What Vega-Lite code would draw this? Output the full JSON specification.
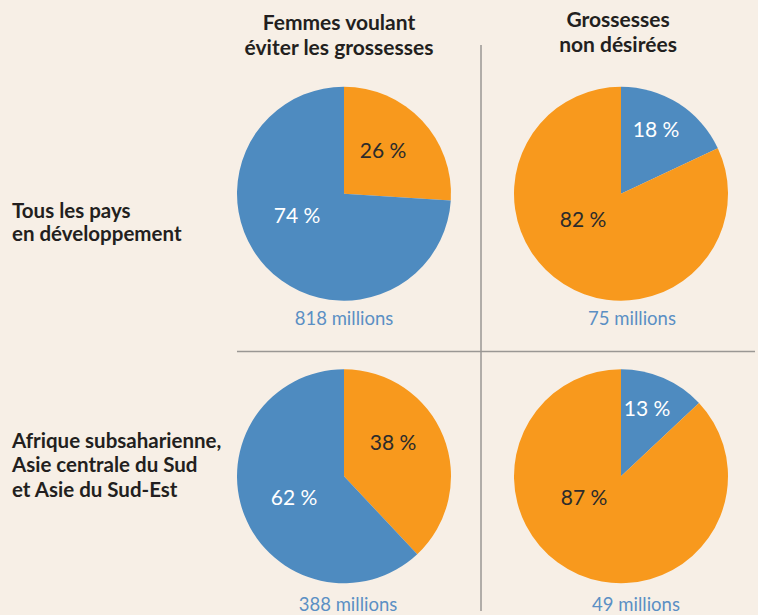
{
  "$schema": "https://vega.github.io/schema/vega-lite/v6.json",
  "width": 758,
  "height": 615,
  "autosize": {"type": "fit", "contains": "padding"},
  "padding": 0,
  "background": "#f7efe6",
  "config": {"view": {"stroke": null}},
  "datasets": {
    "slices": [
      {"col": 1, "row": 1, "part": "Besoins non satisfaits", "t0": 0, "t1": 26},
      {"col": 1, "row": 1, "part": "Contraception moderne", "t0": 26, "t1": 100},
      {"col": 2, "row": 1, "part": "Contraception moderne", "t0": 0, "t1": 18},
      {"col": 2, "row": 1, "part": "Besoins non satisfaits", "t0": 18, "t1": 100},
      {"col": 1, "row": 2, "part": "Besoins non satisfaits", "t0": 0, "t1": 38},
      {"col": 1, "row": 2, "part": "Contraception moderne", "t0": 38, "t1": 100},
      {"col": 2, "row": 2, "part": "Contraception moderne", "t0": 0, "t1": 13},
      {"col": 2, "row": 2, "part": "Besoins non satisfaits", "t0": 13, "t1": 100}
    ],
    "pct": [
      {"lx": 1.1408, "ly": 0.8516, "label": "26 %", "part": "Besoins non satisfaits"},
      {"lx": 0.8303, "ly": 1.0813, "label": "74 %", "part": "Contraception moderne"},
      {"lx": 2.1264, "ly": 0.7774, "label": "18 %", "part": "Contraception moderne"},
      {"lx": 1.8628, "ly": 1.0954, "label": "82 %", "part": "Besoins non satisfaits"},
      {"lx": 1.1769, "ly": 1.8869, "label": "38 %", "part": "Besoins non satisfaits"},
      {"lx": 0.8195, "ly": 2.0813, "label": "62 %", "part": "Contraception moderne"},
      {"lx": 2.0939, "ly": 1.7668, "label": "13 %", "part": "Contraception moderne"},
      {"lx": 1.8664, "ly": 2.0813, "label": "87 %", "part": "Besoins non satisfaits"}
    ],
    "totals": [
      {"lx": 1.0, "ly": 1.4452, "label": "818 millions"},
      {"lx": 2.0397, "ly": 1.4452, "label": "75 millions"},
      {"lx": 1.0144, "ly": 2.4558, "label": "388 millions"},
      {"lx": 2.0542, "ly": 2.4558, "label": "49 millions"}
    ],
    "headers": [
      {"lx": 0.9819, "ly": 0.3993, "label": "Femmes voulant"},
      {"lx": 0.9819, "ly": 0.4876, "label": "éviter les grossesses"},
      {"lx": 1.9892, "ly": 0.3887, "label": "Grossesses"},
      {"lx": 1.9892, "ly": 0.4770, "label": "non désirées"}
    ],
    "rows": [
      {"lx": -0.1986, "ly": 1.0636, "label": "Tous les pays"},
      {"lx": -0.1986, "ly": 1.1449, "label": "en développement"},
      {"lx": -0.1986, "ly": 1.8799, "label": "Afrique subsaharienne,"},
      {"lx": -0.1986, "ly": 1.9647, "label": "Asie centrale du Sud"},
      {"lx": -0.1986, "ly": 2.0530, "label": "et Asie du Sud-Est"}
    ],
    "dividers": [
      {"x1": 1.4946, "x2": 1.4946, "y1": 0.4735, "y2": 2.4770},
      {"x1": 0.6137, "x2": 2.4838, "y1": 1.5583, "y2": 1.5583}
    ]
  },
  "layer": [
    {
      "data": {"name": "dividers"},
      "mark": {"type": "rule", "color": "#9a9794", "strokeWidth": 1.5},
      "encoding": {
        "x": {"field": "x1", "type": "quantitative", "scale": {"domain": [-0.24188, 2.49458], "nice": false, "zero": false}, "axis": null},
        "x2": {"field": "x2"},
        "y": {"field": "y1", "type": "quantitative", "scale": {"domain": [0.31449, 2.48763], "nice": false, "zero": false, "reverse": true}, "axis": null},
        "y2": {"field": "y2"}
      }
    },
    {
      "data": {"name": "slices"},
      "mark": {"type": "arc", "outerRadius": 107},
      "encoding": {
        "x": {"field": "col", "type": "quantitative", "scale": {"domain": [-0.24188, 2.49458], "nice": false, "zero": false}, "axis": null},
        "y": {"field": "row", "type": "quantitative", "scale": {"domain": [0.31449, 2.48763], "nice": false, "zero": false, "reverse": true}, "axis": null},
        "theta": {"field": "t0", "type": "quantitative", "stack": null, "scale": {"domain": [0, 100], "range": [0, 6.283185307]}},
        "theta2": {"field": "t1"},
        "color": {"field": "part", "type": "nominal", "scale": {"domain": ["Besoins non satisfaits", "Contraception moderne"], "range": ["#f8991d", "#4e8bc0"]}, "legend": null}
      }
    },
    {
      "data": {"name": "pct"},
      "mark": {"type": "text", "font": "Lato", "fontSize": 21, "align": "center", "baseline": "middle"},
      "encoding": {
        "x": {"field": "lx", "type": "quantitative"},
        "y": {"field": "ly", "type": "quantitative"},
        "text": {"field": "label"},
        "color": {"condition": {"test": "datum.part === 'Contraception moderne'", "value": "#ffffff"}, "value": "#2b2b2b"}
      }
    },
    {
      "data": {"name": "totals"},
      "mark": {"type": "text", "font": "Lato", "fontSize": 18.5, "align": "center", "baseline": "middle", "color": "#5b8fc4"},
      "encoding": {
        "x": {"field": "lx", "type": "quantitative"},
        "y": {"field": "ly", "type": "quantitative"},
        "text": {"field": "label"}
      }
    },
    {
      "data": {"name": "headers"},
      "mark": {"type": "text", "font": "Lato", "fontWeight": "bold", "fontSize": 21, "align": "center", "baseline": "middle", "color": "#231f20"},
      "encoding": {
        "x": {"field": "lx", "type": "quantitative"},
        "y": {"field": "ly", "type": "quantitative"},
        "text": {"field": "label"}
      }
    },
    {
      "data": {"name": "rows"},
      "mark": {"type": "text", "font": "Lato", "fontWeight": "bold", "fontSize": 20.5, "align": "left", "baseline": "middle", "color": "#231f20"},
      "encoding": {
        "x": {"field": "lx", "type": "quantitative"},
        "y": {"field": "ly", "type": "quantitative"},
        "text": {"field": "label"}
      }
    }
  ]
}
